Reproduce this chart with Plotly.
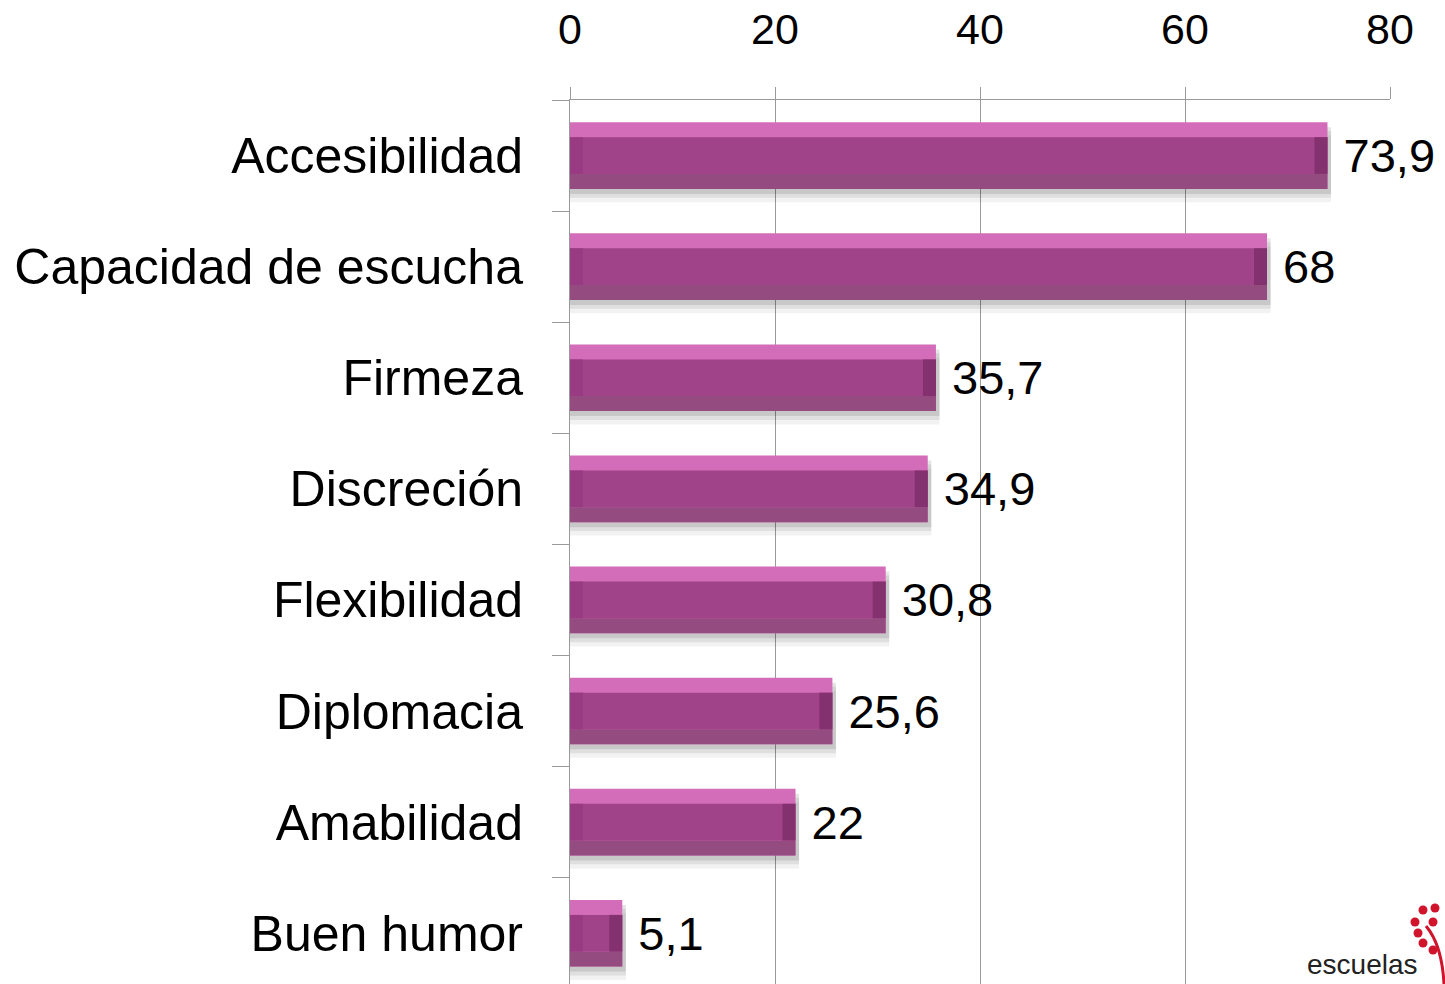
import plotly.graph_objects as go

categories = ["Accesibilidad", "Capacidad de escucha", "Firmeza", "Discreción",
              "Flexibilidad", "Diplomacia", "Amabilidad", "Buen humor"]
values = [73.9, 68, 35.7, 34.9, 30.8, 25.6, 22, 5.1]
x_ticks = [0, 20, 40, 60, 80]

labels = [("%g" % v).replace(".", ",") for v in values]

FONT = "Liberation Sans"
BAR_W = 0.6
BEV_Y = 0.135
BEV_X = 1.27

C_TOP = "#D36CB9"
C_MAIN = "#A14389"
C_BOTTOM = "#934B80"
C_LEFT = "#983B82"
C_RIGHT = "#84316F"

fig = go.Figure()

# soft shadow below bars
for off, alpha in [(0.12, 0.05), (0.08, 0.08), (0.045, 0.10)]:
    fig.add_trace(go.Bar(
        y=categories, x=[v + 0.35 for v in values], base=0, orientation="h",
        width=BAR_W, offset=-BAR_W / 2 + off,
        marker=dict(color="rgba(0,0,0,%g)" % alpha, line=dict(width=0)),
        hoverinfo="skip", showlegend=False))

# full bar (top bevel colour) carrying the value labels
fig.add_trace(go.Bar(
    y=categories, x=values, base=0, orientation="h",
    width=BAR_W, offset=-BAR_W / 2,
    marker=dict(color=C_TOP, line=dict(width=0)),
    text=[" " + t for t in labels], textposition="outside",
    textfont=dict(family=FONT, size=47, color="#000000"),
    cliponaxis=False, showlegend=False))

# bottom bevel
fig.add_trace(go.Bar(
    y=categories, x=values, base=0, orientation="h",
    width=BEV_Y, offset=BAR_W / 2 - BEV_Y,
    marker=dict(color=C_BOTTOM, line=dict(width=0)),
    hoverinfo="skip", showlegend=False))

# main face
fig.add_trace(go.Bar(
    y=categories, x=values, base=0, orientation="h",
    width=BAR_W - 2 * BEV_Y, offset=-BAR_W / 2 + BEV_Y,
    marker=dict(color=C_MAIN, line=dict(width=0)),
    hoverinfo="skip", showlegend=False))

# left bevel
fig.add_trace(go.Bar(
    y=categories, x=[min(BEV_X, v / 2) for v in values], base=0, orientation="h",
    width=BAR_W - 2 * BEV_Y, offset=-BAR_W / 2 + BEV_Y,
    marker=dict(color=C_LEFT, line=dict(width=0)),
    hoverinfo="skip", showlegend=False))

# right bevel
fig.add_trace(go.Bar(
    y=categories, x=[min(BEV_X, v / 2) for v in values],
    base=[v - min(BEV_X, v / 2) for v in values], orientation="h",
    width=BAR_W - 2 * BEV_Y, offset=-BAR_W / 2 + BEV_Y,
    marker=dict(color=C_RIGHT, line=dict(width=0)),
    hoverinfo="skip", showlegend=False))

fig.update_layout(
    width=1445, height=984,
    margin=dict(l=570, r=55, t=100, b=0, autoexpand=False),
    paper_bgcolor="white", plot_bgcolor="white",
    barmode="overlay",
    font=dict(family=FONT, color="#000000"),
    xaxis=dict(
        side="top", range=[0, 80], tickvals=x_ticks,
        ticktext=[str(t) for t in x_ticks], automargin=False,
        ticks="outside", ticklen=12, tickcolor="#9A9A9A", tickwidth=1,
        showline=True, linecolor="#9A9A9A", linewidth=1,
        showgrid=True, gridcolor="#9A9A9A", gridwidth=1,
        zeroline=False, ticklabelstandoff=26,
        tickfont=dict(family=FONT, size=43, color="#000000")),
    yaxis=dict(
        type="category", categoryorder="array", categoryarray=categories,
        range=[7.457, -0.5], automargin=False,
        ticks="outside", tickson="boundaries", ticklen=17,
        tickcolor="#9A9A9A", tickwidth=1,
        showline=True, linecolor="#9A9A9A", linewidth=1,
        showgrid=False, zeroline=False, ticklabelstandoff=36,
        tickfont=dict(family=FONT, size=50, color="#000000")),
)

# partial logo at the bottom right corner (paper coords = plot area 570..1390, 100..984)
def px(x):
    return (x - 570) / 820

def py(y):
    return (984 - y) / 884

fig.add_shape(type="path", xref="paper", yref="paper",
              path="M %f,%f Q %f,%f %f,%f" % (px(1426), py(926), px(1442), py(945), px(1444), py(984)),
              line=dict(color="#D0142C", width=3), layer="above")
for cx, cy in [(1423, 910), (1435, 908), (1415, 922), (1433, 922),
               (1418, 933), (1423, 943), (1433, 950)]:
    r = 4.5
    fig.add_shape(type="circle", xref="paper", yref="paper",
                  x0=px(cx - r), x1=px(cx + r), y0=py(cy + r), y1=py(cy - r),
                  fillcolor="#D0142C", line=dict(width=0), layer="above")
fig.add_annotation(text="escuelas", xref="paper", yref="paper",
                   x=px(1305), y=py(982), xanchor="left", yanchor="bottom",
                   showarrow=False, font=dict(family="Liberation Sans", size=28, color="#222222"))

fig.write_html("out.html", config={"displayModeBar": False},
               post_script="document.body.style.margin='0px';")
